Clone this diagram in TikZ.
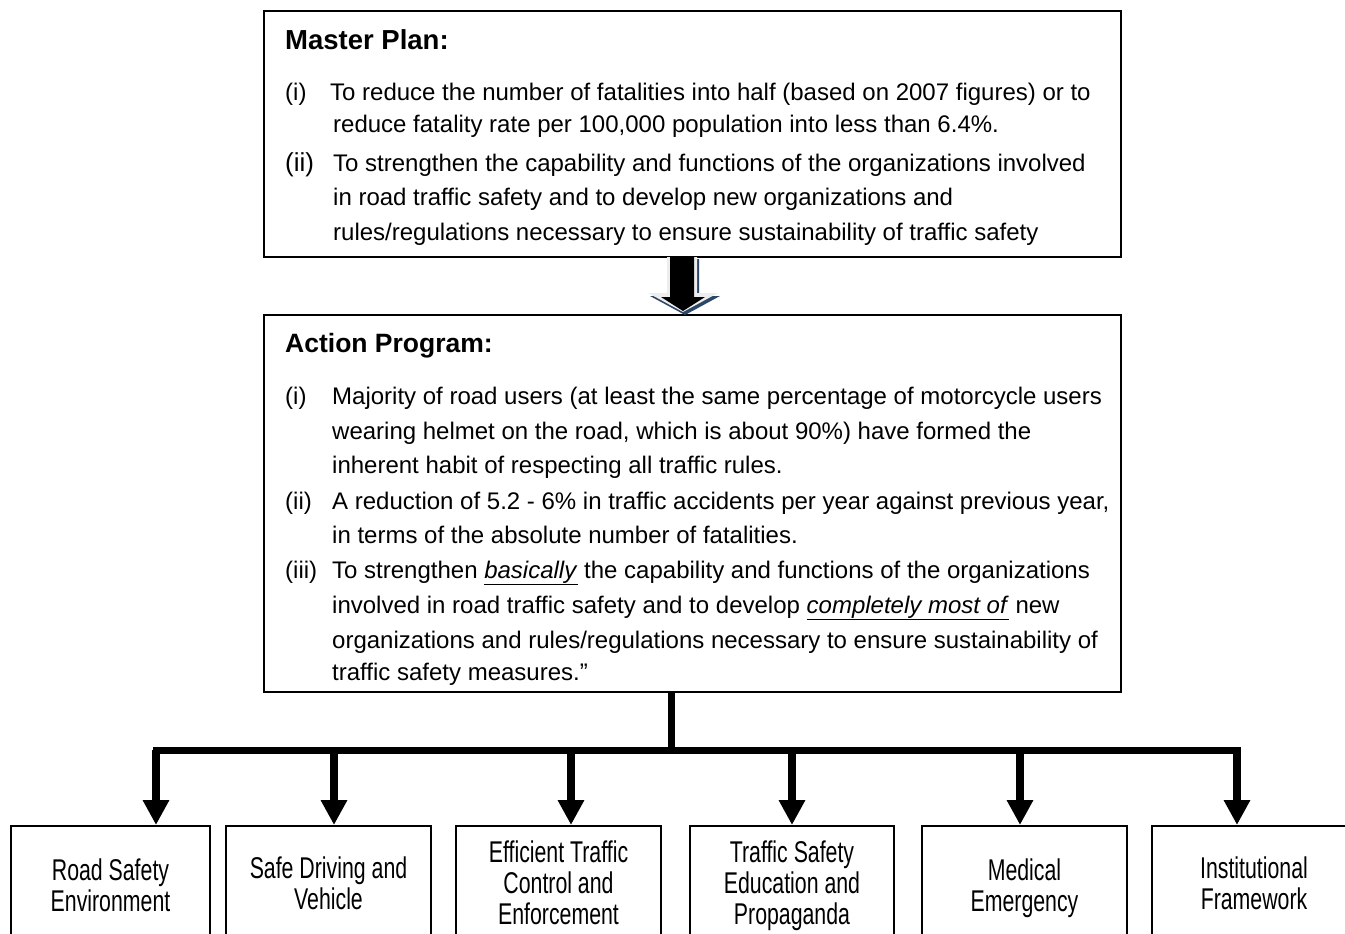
\documentclass[tikz,border=0pt]{standalone}
\usepackage{fontspec}
\setmainfont{Liberation Sans}
\newfontfamily\narrowfont{Liberation Sans}[FakeStretch=0.71]
\usetikzlibrary{arrows.meta}
\definecolor{shadowblue}{HTML}{2B4668}
\definecolor{lightedge}{HTML}{EDEDED}
\begin{document}
\begin{tikzpicture}[x=1pt,y=-1pt,
  frame/.style={draw=black,line width=2pt,inner sep=0pt},
  txt/.style={anchor=base west,inner sep=0pt,font=\fontsize{24}{28}\selectfont},
  headtxt/.style={txt,font=\fontsize{26.5}{30}\selectfont\bfseries},
  boxtxt/.style={anchor=base,inner sep=0pt,font=\narrowfont\fontsize{30}{31}\selectfont},
  conn/.style={line width=7pt},
  arr/.style={line width=8pt,-{Triangle[width=25pt,length=25pt]}}]
\clip (0,0) rectangle (1345,934);
\fill[white] (0,0) rectangle (1345,934);

% main boxes
\node[frame,minimum width=857pt,minimum height=246pt] (mp) at (692.5,134) {};
\node[frame,minimum width=857pt,minimum height=377pt] (ap) at (692.5,503.5) {};

% block arrow between boxes
\fill[shadowblue] (670,259) -- (699,259) -- (699,296) -- (720,296) -- (685,315) -- (650,296) -- (670,296) -- cycle;
\fill[lightedge] (667,257) -- (697,257) -- (697,293) -- (718,293) -- (683,312) -- (648,293) -- (667,293) -- cycle;
\fill[black] (670,257) -- (694,257) -- (694,297) -- (705,297) -- (683,311) -- (661,297) -- (670,297) -- cycle;

% Master plan text
\node[headtxt,font=\fontsize{27.5}{30}\selectfont\bfseries] (mph) at (285,50) {Master Plan:};
\node[txt] (mp1n) at (285,100) {(i)};
\node[txt] (mp1a) at (330,100) {To reduce the number of fatalities into half (based on 2007 figures) or to};
\node[txt] (mp1b) at (333,132) {reduce fatality rate per 100,000 population into less than 6.4\%.};
\node[txt,font=\fontsize{26}{28}\selectfont] (mp2n) at (285,171) {(ii)};
\node[txt] (mp2a) at (333,171) {To strengthen the capability and functions of the organizations involved};
\node[txt] (mp2b) at (333,205) {in road traffic safety and to develop new organizations and};
\node[txt] (mp2c) at (333,240) {rules/regulations necessary to ensure sustainability of traffic safety};

% Action program text
\node[headtxt] (aph) at (285,352) {Action Program:};
\node[txt] (ap1n) at (285,404) {(i)};
\node[txt] (ap1a) at (332,404) {Majority of road users (at least the same percentage of motorcycle users};
\node[txt] (ap1b) at (332,439) {wearing helmet on the road, which is about 90\%) have formed the};
\node[txt] (ap1c) at (332,473) {inherent habit of respecting all traffic rules.};
\node[txt] (ap2n) at (285,509) {(ii)};
\node[txt] (ap2a) at (332,509) {A reduction of 5.2 - 6\% in traffic accidents per year against previous year,};
\node[txt] (ap2b) at (332,543) {in terms of the absolute number of fatalities.};
\node[txt] (ap3n) at (285,578) {(iii)};
\node[txt] (ap3a) at (332,578) {To strengthen \underline{\textit{basically}} the capability and functions of the organizations};
\node[txt] (ap3b) at (332,613) {involved in road traffic safety and to develop \underline{\textit{completely most of}} new};
\node[txt] (ap3c) at (332,648) {organizations and rules/regulations necessary to ensure sustainability of};
\node[txt] (ap3d) at (332,680) {traffic safety measures.”};

% bottom boxes
\node[frame,minimum width=199pt,minimum height=124pt] (b1) at (110.5,888) {};
\node[frame,minimum width=205pt,minimum height=124pt] (b2) at (328.5,888) {};
\node[frame,minimum width=205pt,minimum height=124pt] (b3) at (558.5,888) {};
\node[frame,minimum width=204pt,minimum height=124pt] (b4) at (792,888) {};
\node[frame,minimum width=205pt,minimum height=124pt] (b5) at (1024.5,888) {};
\node[frame,minimum width=208pt,minimum height=124pt] (b6) at (1256,888) {};

\node[boxtxt] (b1l1) at (110.5,880) {Road Safety};
\node[boxtxt] (b1l2) at (110.5,911) {Environment};
\node[boxtxt] (b2l1) at (328.5,878) {Safe Driving and};
\node[boxtxt] (b2l2) at (328.5,909) {Vehicle};
\node[boxtxt] (b3l1) at (558.5,862) {Efficient Traffic};
\node[boxtxt] (b3l2) at (558.5,893) {Control and};
\node[boxtxt] (b3l3) at (558.5,924) {Enforcement};
\node[boxtxt] (b4l1) at (792,862) {Traffic Safety};
\node[boxtxt] (b4l2) at (792,893) {Education and};
\node[boxtxt] (b4l3) at (792,924) {Propaganda};
\node[boxtxt] (b5l1) at (1024.5,880) {Medical};
\node[boxtxt] (b5l2) at (1024.5,911) {Emergency};
\node[boxtxt] (b6l1) at (1254,878) {Institutional};
\node[boxtxt] (b6l2) at (1254,909) {Framework};

% connectors
\coordinate (j) at (671,750);
\coordinate (t1) at (156,750);
\coordinate (t2) at (334,750);
\coordinate (t3) at (571,750);
\coordinate (t4) at (792,750);
\coordinate (t5) at (1020,750);
\coordinate (t6) at (1237,750);
\draw[conn] (j |- ap.south) -- (j);
\draw[conn,line cap=rect] (t1) -- (t6);
\draw[arr] (t1) -- (t1 |- b1.north);
\draw[arr] (t2) -- (t2 |- b2.north);
\draw[arr] (t3) -- (t3 |- b3.north);
\draw[arr] (t4) -- (t4 |- b4.north);
\draw[arr] (t5) -- (t5 |- b5.north);
\draw[arr] (t6) -- (t6 |- b6.north);
\end{tikzpicture}
\end{document}
